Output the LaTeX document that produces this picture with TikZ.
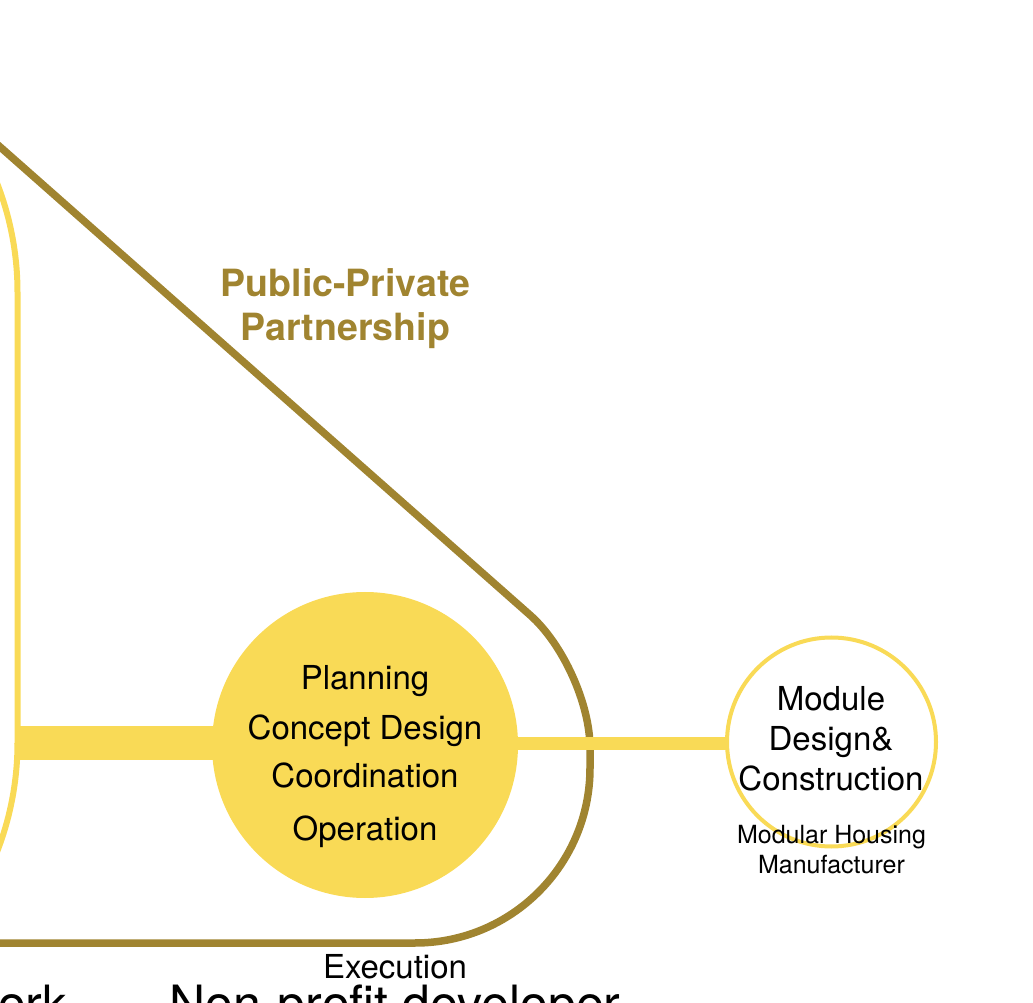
\documentclass[tikz,border=0pt]{standalone}
\usepackage{fontspec}
\setmainfont{TeX Gyre Heros}
\definecolor{ppyellow}{RGB}{249,218,86}
\definecolor{ppbrown}{RGB}{160,132,48}
\begin{document}
\begin{tikzpicture}[x=1pt,y=1pt,
  frameline/.style={ppyellow,line width=6pt},
  pppline/.style={ppbrown,line width=7.5pt},
  roletext/.style={font=\fontsize{33}{50}\selectfont,align=center,inner sep=0pt}]
\useasboundingbox (0,0) rectangle (1033,1002);
\clip (0,0) rectangle (1033,1002);
% partnership outline
\coordinate (bend) at (590,234);
\draw[pppline,rounded corners=80pt] (-10,864) -- (590,334) -- (bend);
\draw[pppline] (bend) arc[start angle=0,end angle=-90,radius=175pt] -- (-10,59);
% left frame
\coordinate (frame) at (17.5,259);
\draw[frameline] (frame) arc[start angle=0,end angle=-40,radius=300pt];
\draw[frameline] (17.5,258) -- (17.5,710) arc[start angle=0,end angle=40,radius=300pt];
\node[circle,fill=ppyellow,minimum size=306pt,inner sep=0pt,outer sep=0pt] (plan) at (365,257) {};
\node[circle,draw=ppyellow,line width=4pt,fill=white,minimum size=209pt,inner sep=0pt,outer sep=0pt] (mod) at (831.5,260) {};
\draw[ppyellow,line width=34pt,shorten >=-6pt] (frame) -- (frame -| plan.west);
\draw[ppyellow,line width=13pt,shorten <=-6pt] (frame -| plan.east) -- (frame -| mod.west);
\node[roletext] (plantext) at ([yshift=-11.5pt]plan.center) {Planning\\Concept Design\\[-2pt]Coordination\\[3pt]Operation};
\node[roletext,font=\fontsize{33}{40}\selectfont] (modtext) at (831,263) {Module\\Design\&\\Construction};
\node[font=\fontsize{25}{30}\selectfont,align=center,inner sep=0pt] (maker) at ([yshift=-3pt]mod.south) {Modular Housing\\Manufacturer};
\node[font=\fontsize{37.5}{44}\selectfont\bfseries,text=ppbrown,align=center,inner sep=0pt] (ppp) at (345.5,693) {Public-Private\\Partnership};
\node[font=\fontsize{33}{40}\selectfont,anchor=base,inner sep=0pt] (exec) at (395,24) {Execution};
\node[font=\fontsize{50}{60}\selectfont,anchor=base,inner sep=0pt] (dev) at (395,-19) {Non-profit developer};
\node[font=\fontsize{50}{60}\selectfont,anchor=base east,inner sep=0pt] (net) at (68,-19) {ork};
\end{tikzpicture}
\end{document}
